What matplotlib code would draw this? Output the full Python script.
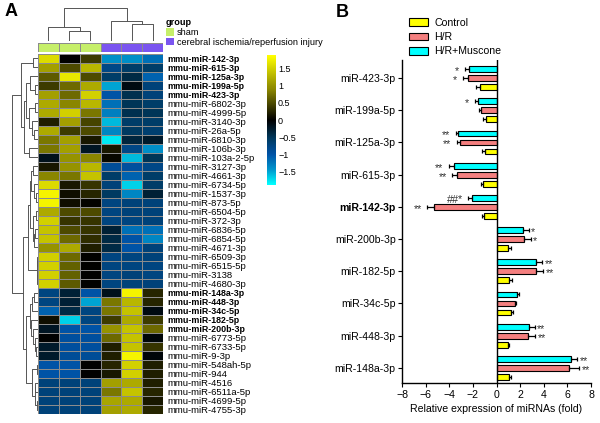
import numpy as np
import matplotlib
matplotlib.use('Agg')
import matplotlib.pyplot as plt
from matplotlib.colors import LinearSegmentedColormap, ListedColormap
from matplotlib.patches import Patch

plt.rcParams['font.family'] = ['Liberation Sans', 'DejaVu Sans']

# ---- panel A data ----
row_labels = ['mmu-miR-142-3p', 'mmu-miR-615-3p', 'mmu-miR-125a-3p', 'mmu-miR-199a-5p',
              'mmu-miR-423-3p', 'mmu-miR-6802-3p', 'mmu-miR-4999-5p', 'mmu-miR-3140-3p',
              'mmu-miR-26a-5p', 'mmu-miR-6810-3p', 'mmu-miR-106b-3p', 'mmu-miR-103a-2-5p',
              'mmu-miR-3127-3p', 'mmu-miR-4661-3p', 'mmu-miR-6734-5p', 'mmu-miR-1537-3p',
              'mmu-miR-873-5p', 'mmu-miR-6504-5p', 'mmu-miR-372-3p', 'mmu-miR-6836-5p',
              'mmu-miR-6854-5p', 'mmu-miR-4671-3p', 'mmu-miR-6509-3p', 'mmu-miR-6515-5p',
              'mmu-miR-3138', 'mmu-miR-4680-3p', 'mmu-miR-148a-3p', 'mmu-miR-448-3p',
              'mmu-miR-34c-5p', 'mmu-miR-182-5p', 'mmu-miR-200b-3p', 'mmu-miR-6773-5p',
              'mmu-miR-6733-5p', 'mmu-miR-9-3p', 'mmu-miR-548ah-5p', 'mmu-miR-944',
              'mmu-miR-4516', 'mmu-miR-6511a-5p', 'mmu-miR-4699-5p', 'mmu-miR-4755-3p']
bold_rows = ['mmu-miR-142-3p', 'mmu-miR-615-3p', 'mmu-miR-125a-3p', 'mmu-miR-199a-5p',
             'mmu-miR-423-3p', 'mmu-miR-148a-3p', 'mmu-miR-448-3p', 'mmu-miR-34c-5p',
             'mmu-miR-182-5p', 'mmu-miR-200b-3p']

# z-scores, columns: sham x3, I/R x3
heat_values = [
    [1.6, 0.0, 0.4, -1.4, -1.4, -1.2],
    [1.1, 0.5, 1.3, -0.8, -0.6, -0.6],
    [0.6, 1.7, 0.5, -0.6, -0.4, -1.1],
    [0.4, 0.7, 1.2, -1.5, -0.1, -0.7],
    [1.1, 0.7, 1.5, -1.0, -0.45, -0.7],
    [1.2, 0.9, 1.3, -1.2, -0.5, -0.6],
    [1.2, 1.5, 0.8, -1.3, -0.45, -0.5],
    [0.2, 1.1, 0.45, -1.6, -0.6, -0.6],
    [1.2, 0.4, 0.5, -1.35, -0.55, -0.65],
    [0.8, 1.1, 0.15, -1.8, -0.35, -0.25],
    [0.8, 1.1, -0.2, 0.15, -0.8, -1.4],
    [-0.15, 1.0, 0.9, 0.05, -1.6, -0.5],
    [0.15, 1.0, 1.3, -0.9, -0.95, -0.8],
    [0.9, 0.8, 1.4, -0.6, -1.1, -0.6],
    [1.6, 0.15, 0.35, -0.7, -1.7, -0.6],
    [1.8, 0.1, 0.25, -0.55, -1.35, -0.3],
    [1.8, 0.1, 0.02, -0.75, -0.7, -0.7],
    [1.2, 0.5, 0.5, -0.75, -0.7, -0.7],
    [1.5, 0.35, 0.35, -0.75, -0.75, -0.7],
    [1.4, 0.5, 0.35, -0.3, -1.2, -1.2],
    [1.4, 0.7, 0.3, -0.4, -1.0, -1.35],
    [1.0, 1.2, 0.2, -0.4, -1.0, -0.7],
    [1.5, 0.7, 0.0, -0.75, -0.75, -0.7],
    [1.5, 0.65, 0.0, -0.75, -0.75, -0.75],
    [1.5, 0.65, 0.0, -0.75, -0.7, -0.75],
    [1.5, 0.6, 0.0, -0.75, -0.7, -0.7],
    [-0.75, -0.3, -1.0, -0.15, 1.8, 0.25],
    [-0.75, -0.3, -1.5, 0.8, 1.3, 0.25],
    [-1.1, -0.4, -0.75, 0.8, 1.4, -0.1],
    [0.1, -1.7, -0.75, 0.4, 1.2, 0.4],
    [-0.2, -1.0, -1.0, 1.0, 1.4, 0.7],
    [0.0, -0.95, -0.95, 0.7, 1.4, -0.05],
    [-0.25, -0.95, -0.95, 0.2, 1.4, 0.35],
    [-0.25, -0.9, -0.9, 0.2, 1.8, -0.05],
    [-1.0, -1.0, 0.0, 0.25, 1.5, 0.2],
    [-1.0, -1.0, 0.0, 0.15, 1.5, 0.2],
    [-0.7, -0.7, -0.7, 1.1, 1.2, 0.2],
    [-0.7, -0.7, -0.7, 0.8, 1.4, 0.25],
    [-0.7, -0.7, -0.7, 1.15, 1.2, 0.15],
    [-0.7, -0.7, -0.7, 1.1, 1.2, 0.25],
]
group_names = ['sham', 'cerebral ischemia/reperfusion injury']
col_group = [0, 0, 0, 1, 1, 1]
group_colors = ['#c6ef6a', '#7b55f0']

# dendrograms as (merge height, left, right); leaves are row / column indices
row_tree = (1.0,
            (0.67, (0.2, 0, 1),
             (0.55, (0.45, (0.3, 2, (0.12, 3, 4)),
                     (0.35, (0.1, 5, 6), (0.25, 7, (0.15, 8, 9)))),
              (0.35, 10, 11))),
            (0.59,
             (0.4, (0.3, (0.28, (0.18, 12, 13), (0.15, 14, (0.06, 15, 16))),
                    (0.2, (0.06, 17, 18), (0.15, (0.1, 19, 20), 21))),
              (0.04, (0.02, 22, 23), (0.02, 24, 25))),
             (0.45, (0.3, (0.22, (0.15, 26, 27), 28),
                     (0.28, 29, (0.18, 30, (0.12, 31, (0.08, 32, 33))))),
              (0.25, (0.04, 34, 35), (0.12, (0.1, 36, 37), (0.05, 38, 39))))))
col_tree = (1.0, (0.41, 0, (0.30, 1, 2)), (0.61, 3, (0.53, 4, 5)))

# ---- panel B data ----
mirnas = ['miR-423-3p', 'miR-199a-5p', 'miR-125a-3p', 'miR-615-3p', 'miR-142-3p',
          'miR-200b-3p', 'miR-182-5p', 'miR-34c-5p', 'miR-448-3p', 'miR-148a-3p']
control_mean = [-1.41, -0.93, -0.99, -1.13, -1.10, 1.01, 1.10, 1.24, 0.99, 1.07]
control_err = [0.31, 0.20, 0.22, 0.14, 0.14, 0.20, 0.25, 0.14, 0.06, 0.14]
hr_mean = [-2.40, -1.27, -3.13, -3.32, -5.30, 2.37, 3.35, 1.58, 2.68, 6.11]
hr_err = [0.45, 0.22, 0.20, 0.43, 0.56, 0.56, 0.62, 0.11, 0.62, 0.90]
musc_mean = [-2.34, -1.60, -3.24, -3.63, -2.11, 2.28, 3.32, 1.77, 2.76, 6.28]
musc_err = [0.36, 0.26, 0.22, 0.40, 0.28, 0.45, 0.56, 0.17, 0.48, 0.56]
hr_sig = ['*', '', '**', '**', '**', '*', '**', '', '**', '**']
musc_sig = ['*', '*', '**', '**', '##*', '*', '**', '', '**', '**']
bar_labels = ['Control', 'H/R', 'H/R+Muscone']
bar_colors = ['#ffff00', '#f47f7f', '#00ffff']

W, H = 600, 423
fig = plt.figure(figsize=(W / 100, H / 100), dpi=100)


def box(x0, y0, x1, y1):
    return [x0 / W, 1 - y1 / H, (x1 - x0) / W, (y1 - y0) / H]


def draw_tree(ax, node, horizontal):
    if isinstance(node, int):
        return node + 0.5, 0.0
    h, left, right = node
    p1, h1 = draw_tree(ax, left, horizontal)
    p2, h2 = draw_tree(ax, right, horizontal)
    pos = [p1, p1, p2, p2]
    hts = [h1, h, h, h2]
    if horizontal:
        ax.plot(hts, pos, color='#555555', lw=0.7)
    else:
        ax.plot(pos, hts, color='#555555', lw=0.7)
    return (p1 + p2) / 2, h


cmap = LinearSegmentedColormap.from_list('hm', [
    (0.0, '#00ffff'), (0.45 / 3.8, '#0095cc'), (0.9 / 3.8, '#0052a6'),
    (1.35 / 3.8, '#003a60'), (0.5, '#000000'), (2.8 / 3.8, '#8a8600'), (1.0, '#ffff00')])

data = np.array(heat_values)
n_rows, n_cols = data.shape

ax_hm = fig.add_axes(box(38, 54, 163, 414))
mesh = ax_hm.pcolormesh(np.arange(n_cols + 1), np.arange(n_rows + 1), data, cmap=cmap,
                        vmin=-1.9, vmax=1.9, edgecolors='#8c8c8c', linewidth=0.5)
ax_hm.set_xlim(0, n_cols)
ax_hm.set_ylim(n_rows, 0)
ax_hm.set_xticks([])
ax_hm.yaxis.tick_right()
ax_hm.set_yticks(np.arange(n_rows) + 0.5)
ax_hm.set_yticklabels(row_labels, fontsize=6.8)
ax_hm.tick_params(axis='y', length=0, pad=3)
for t in ax_hm.get_yticklabels():
    if t.get_text() in bold_rows:
        t.set_fontweight('bold')
        t.set_fontsize(6.4)
for s in ax_hm.spines.values():
    s.set_visible(False)

ax_grp = fig.add_axes(box(38, 43, 163, 52))
ax_grp.pcolormesh(np.arange(n_cols + 1), [0, 1], np.array([col_group]),
                  cmap=ListedColormap(group_colors), vmin=0, vmax=1,
                  edgecolors='#8c8c8c', linewidth=0.5)
ax_grp.set_xlim(0, n_cols)
ax_grp.axis('off')

ax_top = fig.add_axes(box(38, 8, 163, 41))
draw_tree(ax_top, col_tree, horizontal=False)
ax_top.set_xlim(0, n_cols)
ax_top.set_ylim(0, 1.0)
ax_top.axis('off')

ax_left = fig.add_axes(box(12, 54, 38, 414))
draw_tree(ax_left, row_tree, horizontal=True)
ax_left.set_xlim(1.0, 0)
ax_left.set_ylim(n_rows, 0)
ax_left.axis('off')

cax = fig.add_axes(box(267, 55, 276, 185))
cb = fig.colorbar(mesh, cax=cax, ticks=[-1.5, -1, -0.5, 0, 0.5, 1, 1.5])
cb.set_ticklabels(['\u22121.5', '\u22121', '\u22120.5', '0', '0.5', '1', '1.5'])
cb.outline.set_visible(False)
cax.tick_params(length=0, pad=1.5, labelsize=6.5)

fig.legend([Patch(facecolor=c) for c in group_colors], group_names, title='group',
           alignment='left', title_fontproperties={'weight': 'bold', 'size': 6.6},
           loc='upper left', bbox_to_anchor=(166 / W, 1 - 18 / H), fontsize=6.6,
           handlelength=0.9, handleheight=0.9, handletextpad=0.3, labelspacing=0.1,
           borderaxespad=0, borderpad=0, frameon=False)

# ---- panel B ----
ax_b = fig.add_axes(box(402, 60, 591, 383))
y = np.arange(len(mirnas))
offsets = [0.28, 0.0, -0.28]
means = [control_mean, hr_mean, musc_mean]
errs = [control_err, hr_err, musc_err]
sigs = [None, hr_sig, musc_sig]
for k in range(3):
    m = np.array(means[k])
    e = np.array(errs[k])
    yy = y + offsets[k]
    ax_b.barh(yy, m, height=0.18, color=bar_colors[k], edgecolor='black', linewidth=0.8,
              label=bar_labels[k], zorder=2)
    lower = np.where(m < 0, e, 0)
    upper = np.where(m > 0, e, 0)
    ax_b.errorbar(m, yy, xerr=[lower, upper], fmt='none', ecolor='black', elinewidth=0.9,
                  capsize=1.6, capthick=0.9, zorder=3)
    if sigs[k] is not None:
        for i, s in enumerate(sigs[k]):
            if not s:
                continue
            end = m[i] - e[i] if m[i] < 0 else m[i] + e[i]
            if m[i] < 0:
                ax_b.annotate(s, (end, yy[i]), xytext=(-4, -1.5), textcoords='offset points',
                              ha='right', va='center', fontsize=7.8, color='#333333')
            else:
                ax_b.annotate(s, (end, yy[i]), xytext=(1.5, -1.5), textcoords='offset points',
                              ha='left', va='center', fontsize=7.8, color='#333333')

ax_b.axvline(0, color='black', lw=1.0, zorder=4)
ax_b.set_xlim(-8, 8)
ax_b.set_ylim(len(mirnas) - 0.53, -0.56)
ax_b.set_xticks(np.arange(-8, 9, 2))
ax_b.set_yticks(y)
ax_b.set_yticklabels(mirnas, fontsize=7.6)
for t in ax_b.get_yticklabels():
    if t.get_text() == 'miR-142-3p':
        t.set_fontweight('bold')
ax_b.tick_params(axis='x', labelsize=7.6, length=3, width=0.8, pad=2)
ax_b.tick_params(axis='y', length=3, width=0.8, pad=1.5)
ax_b.spines['top'].set_visible(False)
ax_b.spines['right'].set_visible(False)
ax_b.spines['left'].set_linewidth(1.0)
ax_b.spines['bottom'].set_linewidth(1.0)
ax_b.set_xlabel('Relative expression of miRNAs (fold)', fontsize=7.6, labelpad=3)

handles = [Patch(facecolor=c, edgecolor='black', linewidth=0.8) for c in bar_colors]
fig.legend(handles, bar_labels, loc='upper left', bbox_to_anchor=(409 / W, 1 - 18 / H),
           frameon=False, fontsize=7.6, handlelength=1.8, handleheight=0.75,
           labelspacing=0.4, handletextpad=0.6, borderaxespad=0, borderpad=0)

fig.text(5 / W, 1 - 3 / H, 'A', fontsize=13, fontweight='bold', va='top')
fig.text(336 / W, 1 - 4 / H, 'B', fontsize=13, fontweight='bold', va='top')

fig.savefig('out.png', dpi=100)
